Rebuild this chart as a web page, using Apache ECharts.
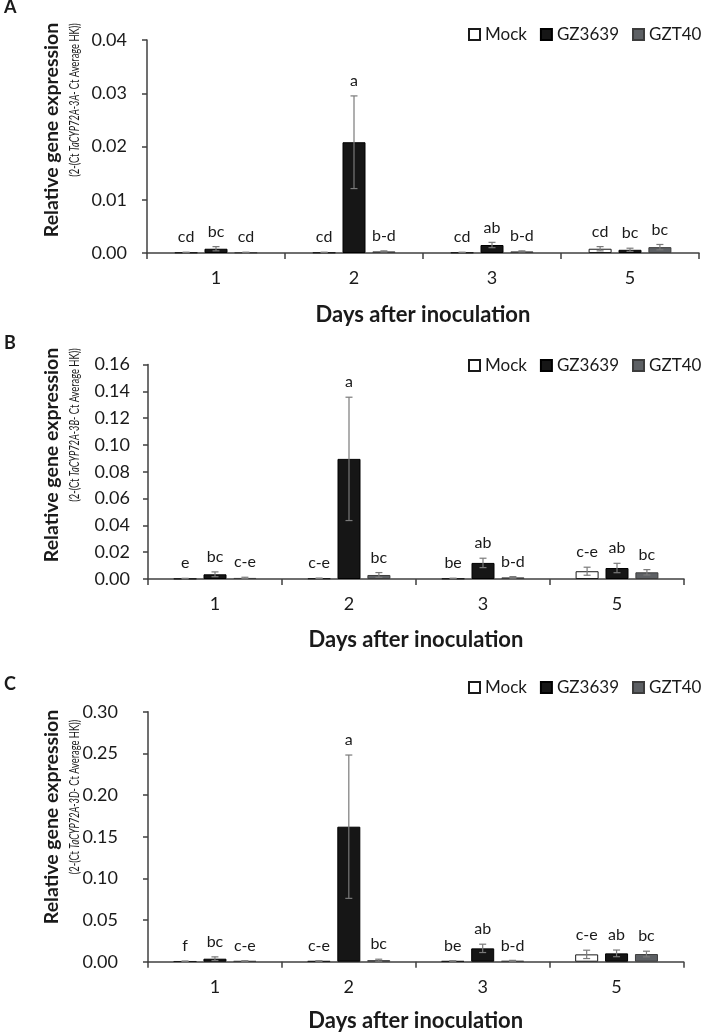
<!DOCTYPE html>
<html><head><meta charset="utf-8">
<script src="https://cdn.jsdelivr.net/npm/echarts@6/dist/echarts.min.js"></script>
<style>html,body{margin:0;padding:0;background:#fff}#c{width:702px;height:1034px}</style>
</head><body><div id="c"></div>
<script>
// ---------- DATA ----------
const categories = ['1', '2', '3', '5'];
const seriesNames = ['Mock', 'GZ3639', 'GZT40'];
const panelLetters = ['A', 'B', 'C'];
const geneNames = ['TaCYP72A-3A-', 'TaCYP72A-3B-', 'TaCYP72A-3D-'];
const yMaxes = [0.04, 0.16, 0.30];
const yIntervals = [0.01, 0.02, 0.05];

// Panel A (TaCYP72A-3A)
const aMock = [0.0001, 0.0001, 0.0001, 0.0008];
const aMockErr = [0.00005, 0.00005, 0.00005, 0.0004];
const aGZ3639 = [0.0008, 0.0208, 0.0015, 0.0006];
const aGZ3639Err = [0.0004, 0.0087, 0.0005, 0.0003];
const aGZT40 = [0.0001, 0.0003, 0.0003, 0.0011];
const aGZT40Err = [0.00005, 0.0001, 0.0001, 0.0005];
const aMockLetters = ['cd', 'cd', 'cd', 'cd'];
const aGZ3639Letters = ['bc', 'a', 'ab', 'bc'];
const aGZT40Letters = ['cd', 'b-d', 'b-d', 'bc'];

// Panel B (TaCYP72A-3B)
const bMock = [0.0003, 0.0005, 0.0004, 0.0058];
const bMockErr = [0.0002, 0.0002, 0.0002, 0.003];
const bGZ3639 = [0.0035, 0.0896, 0.012, 0.0082];
const bGZ3639Err = [0.0018, 0.046, 0.0035, 0.0035];
const bGZT40 = [0.0008, 0.003, 0.0012, 0.005];
const bGZT40Err = [0.0005, 0.0018, 0.0006, 0.002];
const bMockLetters = ['e', 'c-e', 'be', 'c-e'];
const bGZ3639Letters = ['bc', 'a', 'ab', 'ab'];
const bGZT40Letters = ['c-e', 'bc', 'b-d', 'bc'];

// Panel C (TaCYP72A-3D)
const cMock = [0.0005, 0.0008, 0.0008, 0.0088];
const cMockErr = [0.0003, 0.0003, 0.0003, 0.005];
const cGZ3639 = [0.0036, 0.162, 0.016, 0.010];
const cGZ3639Err = [0.0022, 0.086, 0.005, 0.004];
const cGZT40 = [0.0008, 0.0018, 0.001, 0.0092];
const cGZT40Err = [0.0003, 0.0012, 0.0006, 0.0034];
const cMockLetters = ['f', 'c-e', 'be', 'c-e'];
const cGZ3639Letters = ['bc', 'a', 'ab', 'ab'];
const cGZT40Letters = ['c-e', 'bc', 'b-d', 'bc'];

// ---------- BUILD ----------
const FONT = 'Lato';
const panels = [
  { vals: [aMock, aGZ3639, aGZT40], errs: [aMockErr, aGZ3639Err, aGZT40Err], letters: [aMockLetters, aGZ3639Letters, aGZT40Letters] },
  { vals: [bMock, bGZ3639, bGZT40], errs: [bMockErr, bGZ3639Err, bGZT40Err], letters: [bMockLetters, bGZ3639Letters, bGZT40Letters] },
  { vals: [cMock, cGZ3639, cGZT40], errs: [cMockErr, cGZ3639Err, cGZT40Err], letters: [cMockLetters, cGZ3639Letters, cGZT40Letters] }
];
const layout = [
  { grid: { left: 147, top: 40, width: 552, height: 213 }, labelMargin: 20, legendTop: 26, letterY: 8, titleY: 130, subY: 100, nameGap: 51 },
  { grid: { left: 148, top: 364.5, width: 536, height: 214.5 }, labelMargin: 18, legendTop: 357, letterY: 344, titleY: 455, subY: 425, nameGap: 50 },
  { grid: { left: 148, top: 711.7, width: 535.5, height: 250 }, labelMargin: 30, legendTop: 679, letterY: 685, titleY: 817, subY: 797, nameGap: 48 }
];
const BAR_W = 23, BAR_GAP = 0.3;
const OFFSET = BAR_W * (1 + BAR_GAP);
const barStyles = [
  { color: '#ffffff', borderColor: '#1a1a1a', borderWidth: 1 },
  { color: '#161616', borderColor: '#000000', borderWidth: 1 },
  { color: '#5d6064', borderColor: '#3c3c3c', borderWidth: 1 }
];

const grid = [], xAxis = [], yAxis = [], series = [], legend = [], graphic = [];
panels.forEach((p, pi) => {
  const L = layout[pi];
  grid.push(L.grid);
  xAxis.push({
    type: 'category', gridIndex: pi, data: categories,
    axisLine: { lineStyle: { color: '#404040', width: 1.5 } },
    axisTick: { show: true, length: 6, lineStyle: { color: '#404040', width: 1.5 } },
    axisLabel: { fontSize: 18, fontFamily: FONT, color: '#1a1a1a', margin: 16 },
    name: 'Days after inoculation', nameLocation: 'middle', nameGap: L.nameGap,
    nameTextStyle: { fontSize: 22, fontWeight: 'bold', fontFamily: FONT, color: '#1a1a1a' }
  });
  yAxis.push({
    type: 'value', gridIndex: pi, min: 0, max: yMaxes[pi], interval: yIntervals[pi],
    splitLine: { show: false },
    axisLine: { show: true, lineStyle: { color: '#404040', width: 1.5 } },
    axisTick: { show: true, length: 5, lineStyle: { color: '#404040', width: 1.5 } },
    axisLabel: { fontSize: 18, fontFamily: FONT, color: '#1a1a1a', margin: L.labelMargin, formatter: v => v.toFixed(2) }
  });
  seriesNames.forEach((name, k) => {
    series.push({
      type: 'bar', name, xAxisIndex: pi, yAxisIndex: pi, data: p.vals[k],
      barWidth: BAR_W, barGap: (BAR_GAP * 100) + '%', itemStyle: barStyles[k],
      emphasis: { disabled: true }, animation: false
    });
  });
  const items = [], letters = [];
  seriesNames.forEach((name, k) => {
    categories.forEach((c, ci) => {
      items.push([ci, k, p.vals[k][ci], p.errs[k][ci]]);
      letters.push(p.letters[k][ci]);
    });
  });
  series.push({
    type: 'custom', name: 'err' + pi, xAxisIndex: pi, yAxisIndex: pi, data: items, z: 5, animation: false,
    silent: true,
    renderItem: function (params, api) {
      const ci = api.value(0), k = api.value(1), v = api.value(2), e = api.value(3);
      const base = api.coord([ci, v]);
      const hi = api.coord([ci, v + e]);
      const lo = api.coord([ci, Math.max(v - e, 0)]);
      const x = base[0] + (k - 1) * OFFSET;
      const st = { stroke: '#7a7a7a', lineWidth: 1.2 };
      return {
        type: 'group', children: [
          { type: 'line', shape: { x1: x, y1: hi[1], x2: x, y2: lo[1] }, style: st },
          { type: 'line', shape: { x1: x - 3.5, y1: hi[1], x2: x + 3.5, y2: hi[1] }, style: st },
          { type: 'line', shape: { x1: x - 3.5, y1: lo[1], x2: x + 3.5, y2: lo[1] }, style: st },
          { type: 'text', x: x, y: hi[1] - 7, style: { text: letters[params.dataIndex], textAlign: 'center', textVerticalAlign: 'bottom', fontSize: 16, fontFamily: FONT, fill: '#1a1a1a' } }
        ]
      };
    }
  });
  legend.push({
    data: seriesNames, left: 468, top: L.legendTop, width: 240, orient: 'horizontal',
    icon: 'rect', itemWidth: 11, itemHeight: 11, itemGap: 13, padding: 0,
    textStyle: { fontSize: 17, fontFamily: FONT, color: '#1a1a1a' }, selectedMode: false
  });
  graphic.push({
    type: 'text', left: 4, top: L.letterY - 10,
    style: { text: panelLetters[pi], fontSize: 18, fontWeight: 'bold', fontFamily: FONT, fill: '#1a1a1a' }
  });
  graphic.push({
    type: 'text', x: 52, y: L.titleY, rotation: Math.PI / 2,
    style: { text: 'Relative gene expression', textAlign: 'center', textVerticalAlign: 'middle', fontSize: 19.5, fontWeight: 'bold', fontFamily: FONT, fill: '#1a1a1a' }
  });
  graphic.push({
    type: 'text', x: 75, y: L.subY, rotation: Math.PI / 2, scaleX: 0.72,
    style: {
      text: '{n|(2-(Ct }{i|' + geneNames[pi] + '}{n| Ct Average HK))}',
      textAlign: 'center', textVerticalAlign: 'middle',
      rich: {
        n: { fontSize: 13, fontFamily: FONT, fill: '#1a1a1a' },
        i: { fontSize: 13, fontFamily: FONT, fill: '#1a1a1a', fontStyle: 'italic' }
      }
    }
  });
});

const chart = echarts.init(document.getElementById('c'), null, { renderer: 'canvas' });
chart.setOption({
  backgroundColor: '#ffffff',
  animation: false,
  grid, xAxis, yAxis, series, legend, graphic
});
</script>
</body></html>
